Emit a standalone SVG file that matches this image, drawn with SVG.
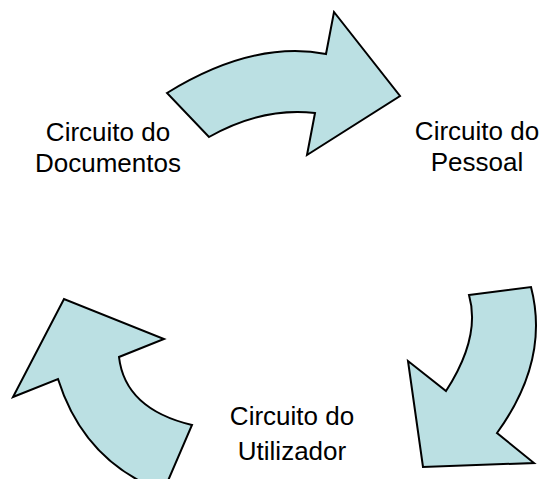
<svg xmlns="http://www.w3.org/2000/svg" width="544" height="479" viewBox="0 0 544 479">
<style>
.arr{fill:#bbe0e3;stroke:#000;stroke-width:2;stroke-linejoin:miter}
.lbl{font-family:"Liberation Sans",Arial,sans-serif;font-size:26px;fill:#000;text-anchor:middle}
</style>
<rect width="544" height="479" fill="#fff"/>
<g id="connectors">
<path id="arrow-top" class="arr" d="M167,93 Q253,40 326,54 L334,12 L400,96 L307,155 L315,113 Q262,107 209,137 Z"/>
<path id="arrow-right" class="arr" d="M469,295 L531,287 Q550,360 497,433 L534,463 L423,467 L408,361 L446,391 Q481,337 469,295 Z"/>
<path id="arrow-left" class="arr" d="M192,425 Q125,409 119,357 L164,339 L64,299 L13,397 L58,379 Q82,455 150,486 L164,490 Z"/>
</g>
<g id="node-documentos">
<text class="lbl" x="108" y="141">Circuito do</text>
<text class="lbl" x="108" y="172">Documentos</text>
</g>
<g id="node-pessoal">
<text class="lbl" x="477" y="140">Circuito do</text>
<text class="lbl" x="477" y="171">Pessoal</text>
</g>
<g id="node-utilizador">
<text class="lbl" x="292" y="425">Circuito do</text>
<text class="lbl" x="292" y="460">Utilizador</text>
</g>
</svg>
